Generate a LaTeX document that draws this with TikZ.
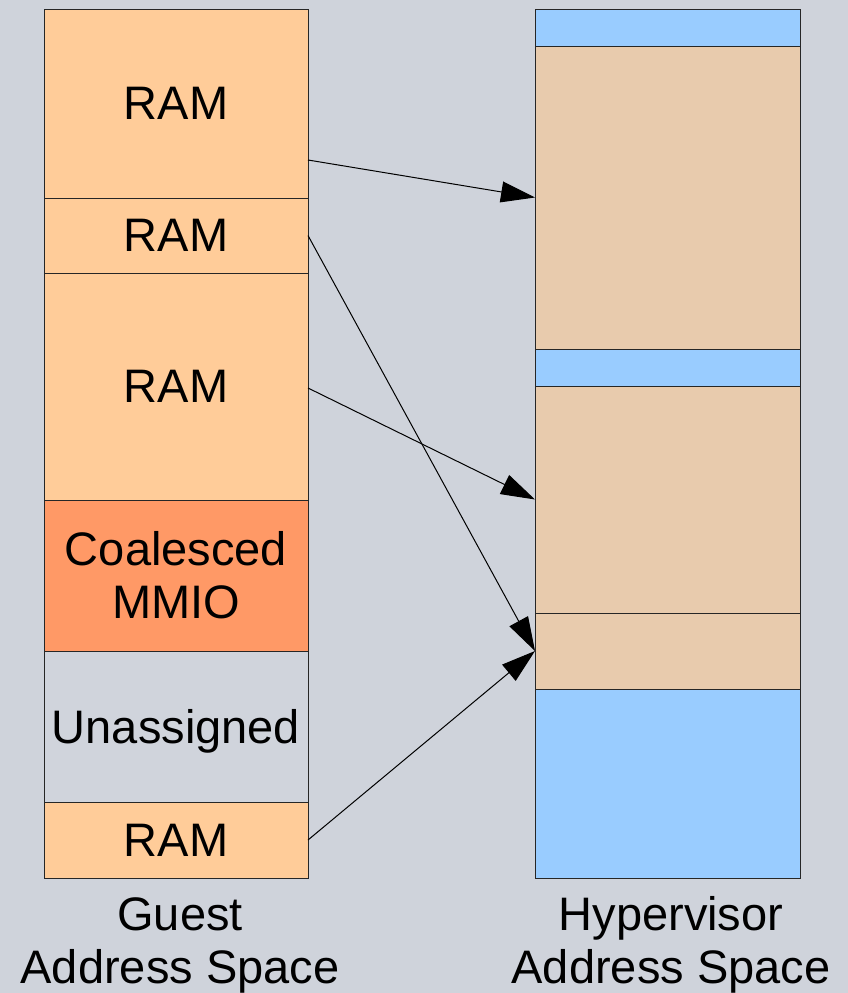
\documentclass[tikz,border=0pt]{standalone}
\usepackage{fontspec}
\setmainfont{Liberation Sans}
\usetikzlibrary{arrows.meta,calc}
\definecolor{bg}{HTML}{CFD3DB}
\definecolor{ram}{HTML}{FFCC99}
\definecolor{mmio}{HTML}{FF9966}
\definecolor{unas}{HTML}{D0D4DC}
\definecolor{hblue}{HTML}{99CCFF}
\definecolor{htan}{HTML}{E8CBAD}
\tikzset{
  blk/.style={draw=black!85, line width=1pt, inner sep=0pt, outer sep=0pt,
    font=\fontsize{47}{53}\selectfont, align=center},
  gblk/.style={blk, minimum width=264pt},
  hblk/.style={blk, minimum width=265pt},
  maparrow/.style={-{Triangle[length=34pt,width=21pt]}, line width=1pt, black},
  caption/.style={font=\fontsize{47}{53}\selectfont, align=center, inner sep=0pt}
}
\begin{document}
\begin{tikzpicture}[x=1pt,y=-1pt]
\fill[bg] (0,0) rectangle (848,993);
\useasboundingbox (0,0) rectangle (848,993);
% guest column
\node[gblk, fill=ram, minimum height=189pt] (g1) at (176,103.5) {RAM};
\node[gblk, fill=ram, minimum height=75pt] (g2) at (176,235.5) {RAM};
\node[gblk, fill=ram, minimum height=227pt] (g3) at (176,386.5) {RAM};
\node[gblk, fill=mmio, minimum height=151pt] (g4) at (176,575.5) {Coalesced\\MMIO};
\node[gblk, fill=unas, minimum height=151pt] (g5) at (176,726.5) {\raisebox{0pt}[\height][0pt]{Unassigned}};
\node[gblk, fill=ram, minimum height=76pt] (g6) at (176,840) {RAM};
% hypervisor column
\node[hblk, fill=hblue, minimum height=37pt] (h1) at (667.5,27.5) {};
\node[hblk, fill=htan, minimum height=303pt] (h2) at (667.5,197.5) {};
\node[hblk, fill=hblue, minimum height=37pt] (h3) at (667.5,367.5) {};
\node[hblk, fill=htan, minimum height=227pt] (h4) at (667.5,499.5) {};
\node[hblk, fill=htan, minimum height=76pt] (h5) at (667.5,651) {};
\node[hblk, fill=hblue, minimum height=189pt] (h6) at (667.5,783.5) {};
% captions
\node[caption] (gcap) at (180,945) {Guest\\Address Space};
\node[caption] (hcap) at (671,945) {Hypervisor\\Address Space};
% mappings
\draw[maparrow] ($(g1.east)+(0,56.5)$) -- (h2.west);
\draw[maparrow] (g2.east) -- (h5.west);
\draw[maparrow] ($(g3.east)+(0,1.5)$) -- (h4.west);
\draw[maparrow] (g6.east) -- (h5.west);
\end{tikzpicture}
\end{document}
